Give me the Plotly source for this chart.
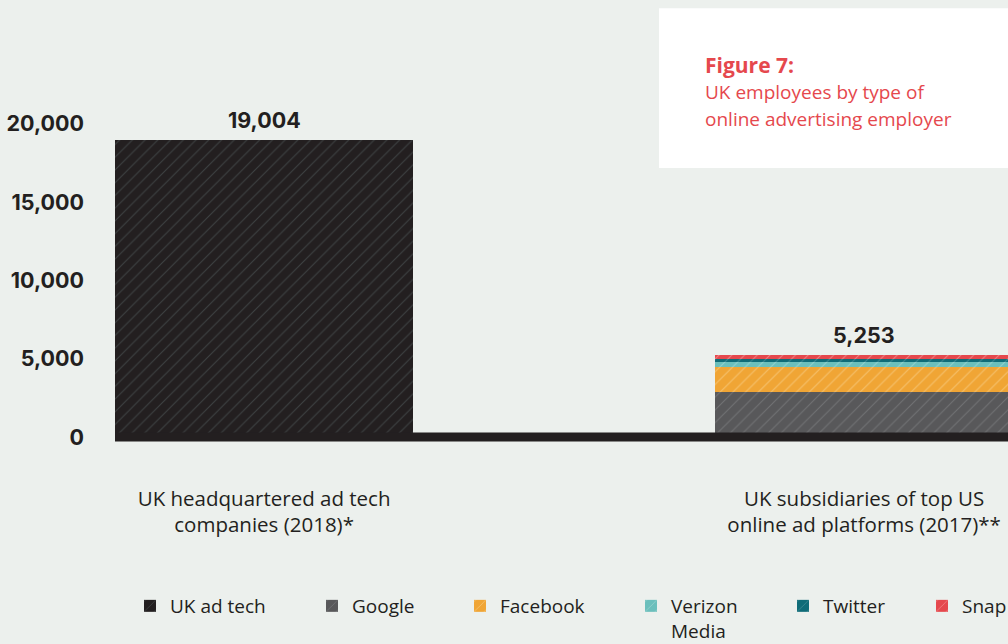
import plotly.graph_objects as go

# ---- data -------------------------------------------------------------
categories = [
    "UK headquartered ad tech<br>companies (2018)*",
    "UK subsidiaries of top US<br>online ad platforms (2017)**",
]
series_names = ["UK ad tech", "Google", "Facebook", "Verizon<br>Media", "Twitter", "Snap"]
uk_ad_tech = [19004, 0]
google = [0, 2890]
facebook = [0, 1555]
verizon_media = [0, 350]
twitter = [0, 195]
snap = [0, 263]
y_tick_vals = [0, 5000, 10000, 15000, 20000]
y_tick_text = ["0", "5,000", "10,000", "15,000", "20,000"]
title_text = "Figure 7:"
subtitle_lines = ["UK employees by type of", "online advertising employer"]

series_values = [uk_ad_tech, google, facebook, verizon_media, twitter, snap]
totals = [sum(v[i] for v in series_values) for i in range(len(categories))]

# ---- styling ------------------------------------------------------------
BG = "#ECF0ED"
INK = "#231F20"
RED = "#E5484D"
TEXT_FONT = "Open Sans"
NUM_FONT = "Inter"
fills = ["#231F20", "#58585A", "#F0A535", "#6BBFBC", "#0F6C78", "#E5484D"]
stripes = ["#3D4142", "#717274", "#F6C26E", "#93D2CE", "#3C8993", "#F07F82"]

W, H = 1008, 644
plot_left, plot_right = 115, 1008
zero_px = 437.5
px_per_unit = 78.4 / 5000
y_lo, y_hi = -700, 26000
plot_top = zero_px - y_hi * px_per_unit
plot_bottom = zero_px - y_lo * px_per_unit
bar_width = 0.497
x_px_per_unit = 600
x_lo = -bar_width / 2
x_hi = x_lo + (plot_right - plot_left) / x_px_per_unit


def paper_x(px):
    return (px - plot_left) / (plot_right - plot_left)


def paper_y(py):
    return (plot_bottom - py) / (plot_bottom - plot_top)


x_pos = list(range(len(categories)))

fig = go.Figure()
legend_ids = ["legend", "legend2", "legend3", "legend4", "legend5", "legend6"]
for name, vals, fc, sc, lid in zip(series_names, series_values, fills, stripes, legend_ids):
    fig.add_trace(go.Bar(
        x=x_pos, y=vals, name=name, width=bar_width, legend=lid,
        marker=dict(color=fc, line=dict(width=0),
                    pattern=dict(shape="/", fgcolor=sc, bgcolor=fc, size=9,
                                 solidity=0.12, fillmode="replace")),
        hoverinfo="skip",
    ))

# value labels above each stacked column
for xp, tot in zip(x_pos, totals):
    fig.add_annotation(x=xp, y=tot, text=f"{tot:,}", showarrow=False,
                       yanchor="bottom", yshift=5,
                       font=dict(family=NUM_FONT, size=21.5, color=INK, weight="bold"))

# baseline band
fig.add_shape(type="line", xref="paper", yref="y", x0=0, x1=1, y0=0, y1=0,
              line=dict(color=INK, width=9), layer="above")

# title card
fig.add_shape(type="rect", xref="paper", yref="paper",
              x0=paper_x(659), x1=paper_x(1040), y0=paper_y(168), y1=paper_y(8),
              fillcolor="white", line=dict(width=0), layer="below")
fig.add_annotation(xref="paper", yref="paper", x=paper_x(703), y=paper_y(65),
                   xanchor="left", yanchor="middle", showarrow=False,
                   text=title_text,
                   font=dict(family=TEXT_FONT, size=21, color=RED, weight="bold"))
for i, line in enumerate(subtitle_lines):
    fig.add_annotation(xref="paper", yref="paper", x=paper_x(703), y=paper_y(92 + 27 * i),
                       xanchor="left", yanchor="middle", showarrow=False,
                       text=line, font=dict(family=TEXT_FONT, size=19, color=RED))

# one legend per series so each entry sits at its own spot along the bottom
text_starts = [170, 352, 500, 671, 823, 962]
layout_legends = {}
for lid, tx in zip(legend_ids, text_starts):
    layout_legends[lid] = dict(
        xref="container", yref="container", x=(tx - 40) / W, y=1 - 587 / H,
        xanchor="left", yanchor="top", orientation="h", valign="top",
        bgcolor="rgba(0,0,0,0)", borderwidth=0,
        font=dict(family=TEXT_FONT, size=19, color=INK),
    )

fig.update_layout(
    width=W, height=H,
    paper_bgcolor=BG, plot_bgcolor=BG,
    barmode="stack", bargap=0,
    margin=dict(l=plot_left, r=W - plot_right, t=plot_top, b=H - plot_bottom, pad=0,
                autoexpand=False),
    xaxis=dict(range=[x_lo, x_hi], tickvals=x_pos, ticktext=categories,
               showgrid=False, zeroline=False, showline=False, ticks="",
               ticklabelstandoff=36,
               tickfont=dict(family=TEXT_FONT, size=20.5, color=INK)),
    yaxis=dict(range=[y_lo, y_hi], tickvals=y_tick_vals, ticktext=y_tick_text,
               showgrid=False, zeroline=False, showline=False, ticks="",
               ticklabelstandoff=30,
               tickfont=dict(family=NUM_FONT, size=21.5, color=INK, weight="bold")),
    showlegend=True,
    **layout_legends,
)

fig.write_html("out.html")
